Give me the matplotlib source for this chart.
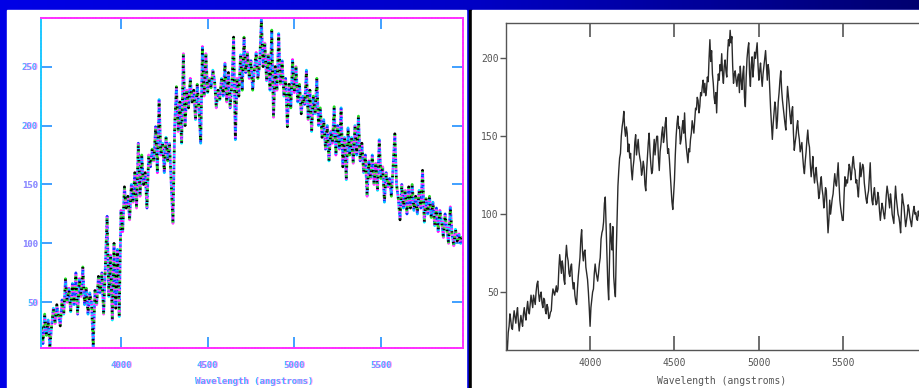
import numpy as np
import matplotlib
matplotlib.use("Agg")
import matplotlib.pyplot as plt
from matplotlib.patches import Rectangle
from matplotlib.colors import LinearSegmentedColormap

# ---------------- data ----------------
# Left panel: raw (noisy) spectrum, sampled every 10 A from 3540 A
left_wave_start = 3540
left_flux = [
    30, 15, 40, 22, 35, 12, 30, 45, 32, 48,
    38, 30, 52, 40, 70, 50, 62, 42, 66, 48,
    75, 40, 70, 55, 80, 48, 62, 40, 58, 50,
    12, 60, 48, 72, 58, 75, 40, 80, 123, 55,
    90, 35, 100, 45, 95, 38, 128, 110, 148, 130,
    140, 120, 150, 135, 160, 130, 185, 140, 175, 150,
    160, 130, 175, 165, 180, 170, 199, 160, 222, 175,
    185, 160, 190, 170, 185, 150, 117, 200, 233, 195,
    220, 185, 261, 200, 230, 215, 240, 220, 230, 205,
    235, 215, 185, 267, 225, 261, 228, 240, 232, 247,
    238, 215, 230, 222, 240, 225, 253, 220, 245, 215,
    235, 275, 188, 240, 225, 260, 230, 275, 245, 262,
    240, 255, 230, 248, 262, 240, 252, 290, 250, 270,
    238, 260, 230, 281, 207, 250, 230, 278, 235, 255,
    225, 240, 199, 235, 215, 256, 228, 250, 220, 235,
    210, 225, 218, 247, 205, 230, 195, 225, 210, 240,
    200, 215, 190, 205, 180, 200, 170, 195, 185, 216,
    175, 200, 180, 215, 165, 190, 154, 198, 175, 190,
    168, 200, 175, 208, 170, 185, 160, 175, 140, 170,
    155, 175, 150, 168, 145, 188, 155, 165, 135, 160,
    148, 155, 140, 165, 193, 150, 138, 120, 150, 130,
    145, 125, 148, 130, 150, 128, 140, 125, 145, 130,
    162, 118, 138, 125, 140, 122, 135, 115, 130, 110,
    128, 118, 105, 125, 112, 100, 131, 108, 98, 112,
    102, 108, 100, 106,
]

# Right panel: processed spectrum, sampled every 5 A from 3500 A
right_wave_start = 3500
right_flux = [
    22, 18, 13, 24, 28, 36, 32, 27, 26, 33, 38, 34, 30, 36, 40, 31, 25, 30, 35, 31,
    28, 36, 40, 35, 32, 39, 44, 38, 36, 42, 48, 44, 40, 48, 45, 42, 50, 55, 57, 49,
    44, 48, 50, 43, 40, 46, 45, 38, 36, 42, 40, 33, 34, 37, 38, 47, 52, 50, 48, 51,
    54, 50, 52, 65, 74, 68, 62, 70, 66, 58, 55, 72, 80, 73, 70, 62, 60, 66, 68, 58,
    52, 56, 48, 44, 42, 52, 60, 66, 72, 84, 90, 76, 70, 76, 77, 66, 62, 58, 50, 40,
    28, 40, 45, 50, 52, 62, 68, 63, 60, 57, 62, 68, 72, 84, 88, 90, 95, 107, 111, 92,
    72, 55, 45, 70, 94, 84, 77, 92, 60, 52, 47, 75, 96, 118, 128, 136, 139, 150, 156, 160,
    166, 155, 150, 156, 152, 140, 145, 136, 139, 128, 122, 130, 135, 146, 151, 138, 143, 148, 140, 136,
    133, 125, 128, 134, 130, 119, 115, 128, 137, 146, 152, 140, 132, 126, 128, 140, 148, 138, 145, 150,
    150, 136, 128, 140, 145, 152, 156, 146, 150, 158, 162, 148, 139, 142, 135, 126, 118, 108, 103, 112,
    122, 138, 150, 158, 163, 155, 156, 145, 148, 155, 160, 152, 165, 150, 143, 138, 133, 142, 140, 148,
    152, 160, 156, 152, 160, 168, 167, 175, 173, 165, 169, 178, 176, 182, 186, 178, 184, 176, 180, 188,
    185, 200, 212, 198, 205, 190, 184, 175, 171, 178, 165, 182, 190, 186, 196, 192, 203, 190, 184, 195,
    199, 192, 188, 204, 212, 208, 218, 210, 214, 195, 184, 190, 192, 186, 182, 188, 190, 178, 195, 186,
    180, 190, 195, 175, 169, 188, 200, 206, 210, 190, 182, 196, 201, 188, 195, 204, 200, 205, 210, 196,
    186, 192, 197, 188, 182, 190, 195, 200, 205, 195, 186, 196, 192, 180, 167, 158, 148, 158, 165, 172,
    168, 155, 160, 172, 178, 186, 192, 180, 173, 168, 163, 158, 154, 170, 182, 176, 170, 163, 158, 166,
    169, 152, 141, 146, 150, 156, 160, 152, 148, 140, 143, 146, 137, 130, 126, 134, 140, 148, 154, 146,
    143, 132, 124, 130, 137, 126, 120, 126, 130, 122, 118, 110, 113, 120, 124, 116, 112, 104, 109, 117,
    115, 100, 88, 96, 109, 100, 105, 110, 113, 120, 126, 120, 118, 126, 133, 120, 109, 104, 100, 96,
    96, 112, 124, 118, 122, 120, 126, 132, 130, 122, 126, 133, 137, 130, 128, 120, 122, 116, 111, 122,
    133, 124, 128, 132, 130, 120, 115, 110, 107, 112, 115, 124, 133, 118, 109, 106, 113, 117, 110, 106,
    107, 114, 111, 102, 96, 102, 107, 104, 100, 97, 103, 112, 118, 114, 109, 104, 113, 108, 100, 97,
    94, 108, 118, 110, 105, 100, 98, 94, 88, 102, 113, 108, 105, 98, 92, 96, 100, 106, 103, 98,
    95, 92, 98, 102, 105, 100, 101, 97, 96, 102, 99,
]

x_ticks = [4000, 4500, 5000, 5500]
left_y_ticks = [50, 100, 150, 200, 250]
right_y_ticks = [50, 100, 150, 200]
x_label = "Wavelength (angstroms)"

left_wave = left_wave_start + 10 * np.arange(len(left_flux))
right_wave = right_wave_start + 5 * np.arange(len(right_flux))

# ---------------- figure & slide background ----------------
W, H = 919, 388
fig = plt.figure(figsize=(W / 100, H / 100), dpi=100)
fig.patch.set_facecolor("#0000e6")

bg = fig.add_axes([0, 0, 1, 1], zorder=-10)
bg.set_axis_off()
grad = np.linspace(0, 1, 256)[None, :]
band_cmap = LinearSegmentedColormap.from_list("band", ["#0000e6", "#0000c8", "#000070"])
bg.imshow(grad, cmap=band_cmap, aspect="auto", extent=[0, W, H - 10, H])
bg.add_patch(Rectangle((0, 0), W, H - 10, color="#0000e6", zorder=0))
bg.add_patch(Rectangle((7, 0), 459, H - 10, color="white", zorder=1))
bg.add_patch(Rectangle((469, 0), 3, H - 10, color="black", zorder=1))
bg.add_patch(Rectangle((472, 0), W - 472, H - 10, color="white", zorder=1))
bg.set_xlim(0, W)
bg.set_ylim(0, H)


def frac(x0, y_top, x1, y_bot):
    return [x0 / W, 1 - y_bot / H, (x1 - x0) / W, (y_bot - y_top) / H]


MONO = "DejaVu Sans Mono"

# ---------------- left panel: dithered, multicoloured plot ----------------
axl = fig.add_axes(frac(40.7, 18.3, 463.3, 348.3))
axl.set_facecolor("none")
axl.set_xlim(3537, 5975)
axl.set_ylim(11, 291)

dot_colors = ["#00f0ff", "#ff10ff", "#00c0ff", "#1030ff", "#ff40ff", "#20e020", "#000000"]
n_col = len(dot_colors)
for i, c in enumerate(dot_colors):
    axl.plot(left_wave, left_flux, color=c, lw=2.0,
             linestyle=(i * 0.55, (0.55, 0.55 * (n_col - 1))), solid_capstyle="butt")

for name, sp in axl.spines.items():
    sp.set_color("#20c8ff" if name == "left" else "#ff30ff")
    sp.set_linewidth(1.4)
    sp.set_linestyle((0, (0.8, 0.8)))
axl.add_patch(Rectangle((0, 0), 1, 1, transform=axl.transAxes, fill=False,
                        edgecolor="#3060ff", lw=1.4, linestyle=(0.8, (0.8, 2.4)),
                        clip_on=False))

axl.set_xticks(x_ticks)
axl.set_yticks(left_y_ticks)
axl.tick_params(axis="both", direction="in", length=8, width=1.4,
                color="#40a0ff", top=True, right=True, labelsize=6.5,
                labelcolor="#30c8ff", pad=9)
for lab in axl.get_xticklabels() + axl.get_yticklabels():
    lab.set_fontfamily(MONO)
    lab.set_fontweight("bold")
axl.tick_params(axis="y", pad=2)
# magenta ghost of the tick labels for the dithered look
for xt in x_ticks:
    axl.text(xt + 6, 11 - 17.5 * 280 / 330, str(xt), color="#ff40ff", alpha=0.55,
             fontsize=6.5, fontfamily=MONO, fontweight="bold",
             ha="center", va="center", clip_on=False)
for yt in left_y_ticks:
    axl.text(3537 - 2 * 2438 / 422.6, yt - 0.6, str(yt), color="#ff40ff", alpha=0.5,
             fontsize=6.5, fontfamily=MONO, fontweight="bold",
             ha="right", va="center", clip_on=False)
fig.text(254 / W, 1 - 381 / H, x_label, color="#30c8ff", fontsize=6.5,
         fontfamily=MONO, fontweight="bold", ha="center", va="center")
fig.text(255 / W, 1 - 382 / H, x_label, color="#ff40ff", alpha=0.5, fontsize=6.5,
         fontfamily=MONO, fontweight="bold", ha="center", va="center")

# ---------------- right panel: clean plot ----------------
axr = fig.add_axes(frac(505.7, 22.7, 919.5, 350))
axr.set_facecolor("none")
axr.set_xlim(3500, 5952)
axr.set_ylim(12.8, 222.9)
axr.plot(right_wave, right_flux, color="#2a2a2a", lw=1.0)

for sp in axr.spines.values():
    sp.set_color("#555555")
    sp.set_linewidth(1.0)
axr.set_xticks(x_ticks)
axr.set_yticks(right_y_ticks)
axr.tick_params(axis="x", direction="in", length=10, width=1.2, color="#555555",
                top=True, labelsize=7, labelcolor="#555555", pad=6)
axr.tick_params(axis="y", direction="out", length=4, width=1.0, color="#555555",
                labelsize=7, labelcolor="#555555", pad=1)
axr.tick_params(axis="y", which="both", right=True)
for lab in axr.get_xticklabels() + axr.get_yticklabels():
    lab.set_fontfamily(MONO)
fig.text(722 / W, 1 - 381 / H, x_label, color="#555555", fontsize=7,
         fontfamily=MONO, ha="center", va="center")

fig.savefig("out.png", dpi=100, facecolor=fig.get_facecolor())
